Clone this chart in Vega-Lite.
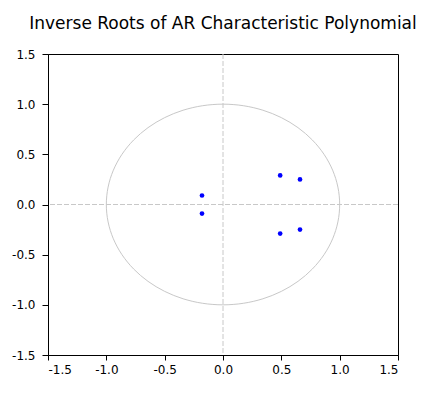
{
  "$schema": "https://vega.github.io/schema/vega-lite/v6.json",
  "width": 350,
  "height": 301,
  "autosize": {"type": "none"},
  "padding": {"left": 48, "top": 54, "right": 28, "bottom": 42},
  "background": "white",
  "title": {
    "text": "Inverse Roots of AR Characteristic Polynomial",
    "font": "DejaVu Sans",
    "fontSize": 17,
    "fontWeight": "normal",
    "color": "#000000",
    "anchor": "middle",
    "baseline": "alphabetic",
    "offset": 2
  },
  "config": {
    "view": {"stroke": "#000000", "strokeWidth": 1},
    "axis": {
      "grid": false,
      "domainColor": "#000000",
      "tickColor": "#000000",
      "labelColor": "#000000",
      "labelFont": "DejaVu Sans",
      "labelFontSize": 12,
      "title": null,
      "labelExpr": "replace(datum.label, '\u2212', '-')"
    }
  },
  "datasets": {
    "circle": [
      {"a": 0, "x": 1.0, "y": 0.0},
      {"a": 10, "x": 0.9848, "y": 0.1736},
      {"a": 20, "x": 0.9397, "y": 0.342},
      {"a": 30, "x": 0.866, "y": 0.5},
      {"a": 40, "x": 0.766, "y": 0.6428},
      {"a": 50, "x": 0.6428, "y": 0.766},
      {"a": 60, "x": 0.5, "y": 0.866},
      {"a": 70, "x": 0.342, "y": 0.9397},
      {"a": 80, "x": 0.1736, "y": 0.9848},
      {"a": 90, "x": 0.0, "y": 1.0},
      {"a": 100, "x": -0.1736, "y": 0.9848},
      {"a": 110, "x": -0.342, "y": 0.9397},
      {"a": 120, "x": -0.5, "y": 0.866},
      {"a": 130, "x": -0.6428, "y": 0.766},
      {"a": 140, "x": -0.766, "y": 0.6428},
      {"a": 150, "x": -0.866, "y": 0.5},
      {"a": 160, "x": -0.9397, "y": 0.342},
      {"a": 170, "x": -0.9848, "y": 0.1736},
      {"a": 180, "x": -1.0, "y": 0.0},
      {"a": 190, "x": -0.9848, "y": -0.1736},
      {"a": 200, "x": -0.9397, "y": -0.342},
      {"a": 210, "x": -0.866, "y": -0.5},
      {"a": 220, "x": -0.766, "y": -0.6428},
      {"a": 230, "x": -0.6428, "y": -0.766},
      {"a": 240, "x": -0.5, "y": -0.866},
      {"a": 250, "x": -0.342, "y": -0.9397},
      {"a": 260, "x": -0.1736, "y": -0.9848},
      {"a": 270, "x": 0.0, "y": -1.0},
      {"a": 280, "x": 0.1736, "y": -0.9848},
      {"a": 290, "x": 0.342, "y": -0.9397},
      {"a": 300, "x": 0.5, "y": -0.866},
      {"a": 310, "x": 0.6428, "y": -0.766},
      {"a": 320, "x": 0.766, "y": -0.6428},
      {"a": 330, "x": 0.866, "y": -0.5},
      {"a": 340, "x": 0.9397, "y": -0.342},
      {"a": 350, "x": 0.9848, "y": -0.1736}
    ],
    "roots": [
      {"re": -0.18, "im": 0.09},
      {"re": -0.18, "im": -0.09},
      {"re": 0.49, "im": 0.29},
      {"re": 0.49, "im": -0.29},
      {"re": 0.66, "im": 0.25},
      {"re": 0.66, "im": -0.25}
    ],
    "zero": [{"v": 0}]
  },
  "layer": [
    {
      "data": {"name": "circle"},
      "mark": {"type": "line", "interpolate": "cardinal-closed", "color": "#c8c8c8", "strokeWidth": 1},
      "encoding": {
        "x": {"field": "x", "type": "quantitative", "scale": {"domain": [-1.5, 1.5], "nice": false, "zero": false},
              "axis": {"values": [-1.5, -1, -0.5, 0, 0.5, 1, 1.5], "format": ".1f", "tickSize": 5, "labelPadding": 4}},
        "y": {"field": "y", "type": "quantitative", "scale": {"domain": [-1.5, 1.5], "nice": false, "zero": false},
              "axis": {"values": [-1.5, -1, -0.5, 0, 0.5, 1, 1.5], "format": ".1f", "tickSize": 6, "labelPadding": 7}},
        "order": {"field": "a", "type": "quantitative"}
      }
    },
    {
      "data": {"name": "zero"},
      "mark": {"type": "rule", "color": "#c8c8c8", "strokeWidth": 1, "strokeDash": [5, 2]},
      "encoding": {"x": {"field": "v", "type": "quantitative"}}
    },
    {
      "data": {"name": "zero"},
      "mark": {"type": "rule", "color": "#c8c8c8", "strokeWidth": 1, "strokeDash": [5, 2]},
      "encoding": {"y": {"field": "v", "type": "quantitative"}}
    },
    {
      "data": {"name": "roots"},
      "mark": {"type": "point", "filled": true, "shape": "circle", "size": 22, "color": "#0000ff", "opacity": 1},
      "encoding": {
        "x": {"field": "re", "type": "quantitative"},
        "y": {"field": "im", "type": "quantitative"}
      }
    }
  ]
}
